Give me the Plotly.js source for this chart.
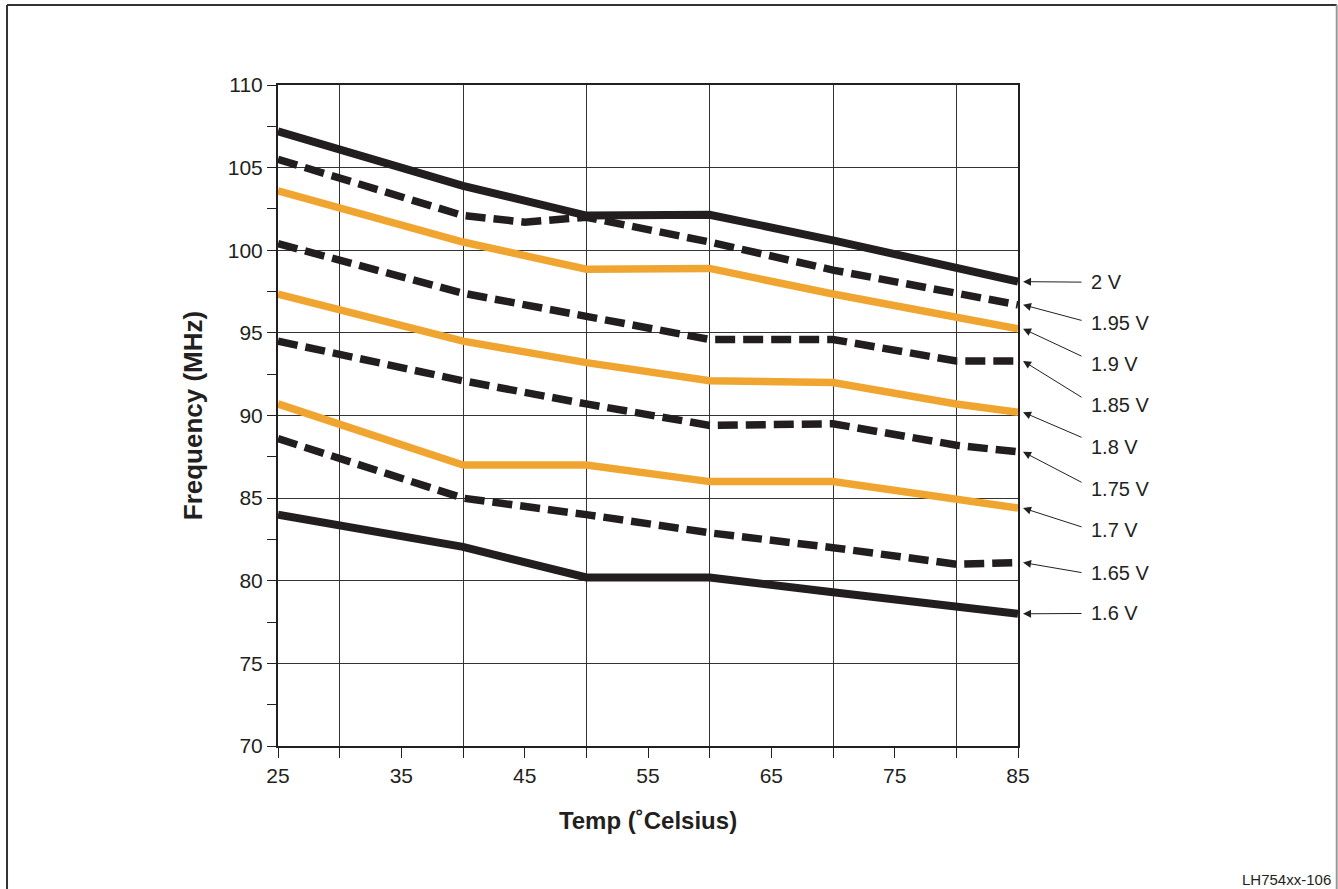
<!DOCTYPE html>
<html>
<head>
<meta charset="utf-8">
<script src="https://cdn.plot.ly/plotly-3.0.1.min.js"></script>
<style>
  html, body { margin: 0; padding: 0; background: #ffffff; }
  #chart { width: 1338px; height: 889px; }
</style>
</head>
<body>
<div id="chart"></div>
<script>
// ---- Data ----
const temps = [25, 40, 50, 60, 70, 80, 85];
const temps195 = [25, 40, 45, 50, 60, 70, 80, 85];

const v200 = [107.2, 103.9, 102.1, 102.15, 100.6, 98.9, 98.1];
const v195 = [105.5, 102.1, 101.7, 102.0, 100.5, 98.8, 97.4, 96.7];
const v190 = [103.6, 100.5, 98.85, 98.9, 97.35, 95.9, 95.25];
const v185 = [100.4, 97.4, 96.0, 94.6, 94.6, 93.3, 93.3];
const v180 = [97.35, 94.5, 93.2, 92.1, 92.0, 90.7, 90.2];
const v175 = [94.5, 92.1, 90.7, 89.4, 89.5, 88.2, 87.8];
const v170 = [90.7, 87.0, 87.0, 86.0, 86.0, 85.0, 84.4];
const v165 = [88.6, 85.0, 84.0, 82.9, 82.0, 81.0, 81.1];
const v160 = [84.0, 82.05, 80.2, 80.2, 79.3, 78.4, 78.0];

const seriesLabels = ['2 V', '1.95 V', '1.9 V', '1.85 V', '1.8 V', '1.75 V', '1.7 V', '1.65 V', '1.6 V'];
const xTickVals = [25, 35, 45, 55, 65, 75, 85];
const xGridVals = [30, 40, 50, 60, 70, 80];
const yTickVals = [70, 75, 80, 85, 90, 95, 100, 105, 110];
const yMinorVals = [72.5, 77.5, 82.5, 87.5, 92.5, 97.5, 102.5, 107.5];

// ---- Styling ----
const BLACK = '#221e1f';
const ORANGE = '#f0a530';
const FONT = 'Liberation Sans, Arial, sans-serif';
const styles = [
  {color: BLACK, dash: 'solid', width: 8},
  {color: BLACK, dash: '20px,8px', width: 7.5},
  {color: ORANGE, dash: 'solid', width: 7.5},
  {color: BLACK, dash: '20px,8px', width: 7.5},
  {color: ORANGE, dash: 'solid', width: 7.5},
  {color: BLACK, dash: '20px,8px', width: 7.5},
  {color: ORANGE, dash: 'solid', width: 7.5},
  {color: BLACK, dash: '20px,8px', width: 7.5},
  {color: BLACK, dash: 'solid', width: 8}
];
const seriesY = [v200, v195, v190, v185, v180, v175, v170, v165, v160];
const seriesX = [temps, temps195, temps, temps, temps, temps, temps, temps, temps];

// annotation layout (arrow tails and text centres, in y-axis units)
const arrowTailY = [98.07, 95.73, 93.55, 91.05, 88.64, 85.91, 83.23, 80.48, 78.02];
const labelY     = [98.07, 95.62, 93.11, 90.63, 88.09, 85.55, 83.07, 80.48, 78.04];

const traces = [];
for (let i = seriesY.length - 1; i >= 0; i--) {
  traces.push({
    type: 'scatter', mode: 'lines',
    x: seriesX[i], y: seriesY[i],
    name: seriesLabels[i],
    line: {color: styles[i].color, dash: styles[i].dash, width: styles[i].width},
    hoverinfo: 'skip', showlegend: false
  });
}

const annotations = [];
seriesY.forEach((vals, i) => {
  const endVal = vals[vals.length - 1];
  annotations.push({
    xref: 'paper', yref: 'y', x: 1.0068, y: endVal,
    axref: 'pixel', ayref: 'y', ax: 60, ay: arrowTailY[i],
    text: '', showarrow: true, arrowhead: 2, arrowsize: 1.6, arrowwidth: 1,
    arrowcolor: '#231f20', standoff: 0, startstandoff: 0
  });
  annotations.push({
    xref: 'paper', yref: 'y', x: 1.0959, y: labelY[i],
    xanchor: 'left', yanchor: 'middle', showarrow: false,
    text: seriesLabels[i],
    font: {family: FONT, size: 20, color: '#231f20'}
  });
});
annotations.push({
  xref: 'paper', yref: 'paper', x: 1.4257, y: -0.2027,
  xanchor: 'right', yanchor: 'middle', showarrow: false,
  text: 'LH754xx-106',
  font: {family: FONT, size: 15, color: '#231f20'}
});

const layout = {
  width: 1338, height: 889,
  margin: {l: 278, r: 320, t: 85, b: 143, pad: 0},
  paper_bgcolor: '#ffffff', plot_bgcolor: '#ffffff',
  font: {family: FONT, color: '#231f20', size: 21},
  xaxis: {
    range: [25, 85],
    tickmode: 'array', tickvals: xTickVals, ticktext: xTickVals.map(String),
    ticks: 'outside', ticklen: 10, tickwidth: 1, tickcolor: '#231f20',
    showgrid: false, zeroline: false,
    showline: true, linewidth: 2, linecolor: '#231f20', mirror: true,
    tickfont: {size: 21},
    minor: {tickmode: 'array', tickvals: xGridVals, ticks: 'outside', ticklen: 10, tickwidth: 1,
            tickcolor: '#231f20', showgrid: true, gridcolor: '#333333', gridwidth: 1},
    title: {text: 'Temp (˚Celsius)', standoff: 26,
            font: {size: 24, family: FONT, weight: 'bold'}}
  },
  yaxis: {
    range: [70, 110],
    tickmode: 'array', tickvals: yTickVals, ticktext: yTickVals.map(String),
    ticks: 'outside', ticklen: 9, tickwidth: 1, tickcolor: '#231f20',
    showgrid: true, gridcolor: '#333333', gridwidth: 1, zeroline: false,
    showline: true, linewidth: 2, linecolor: '#231f20', mirror: true,
    tickfont: {size: 21},
    minor: {tickmode: 'array', tickvals: yMinorVals, ticks: 'outside', ticklen: 9, tickwidth: 1,
            tickcolor: '#231f20', showgrid: false},
    title: {text: 'Frequency (MHz)', standoff: 18,
            font: {size: 26, family: FONT, weight: 'bold'}}
  },
  shapes: [
    {type: 'line', xref: 'paper', yref: 'paper', x0: -0.3662, x1: -0.3662, y0: 1.121, y1: -0.3,
     line: {color: '#333333', width: 2}},
    {type: 'line', xref: 'paper', yref: 'paper', x0: -0.3662, x1: 1.4307, y0: 1.121, y1: 1.121,
     line: {color: '#333333', width: 2}},
    {type: 'line', xref: 'paper', yref: 'paper', x0: 1.4307, x1: 1.4307, y0: 1.121, y1: -0.3,
     line: {color: '#999999', width: 2}}
  ],
  annotations: annotations
};

Plotly.newPlot('chart', traces, layout, {displayModeBar: false, staticPlot: true});
</script>
</body>
</html>
